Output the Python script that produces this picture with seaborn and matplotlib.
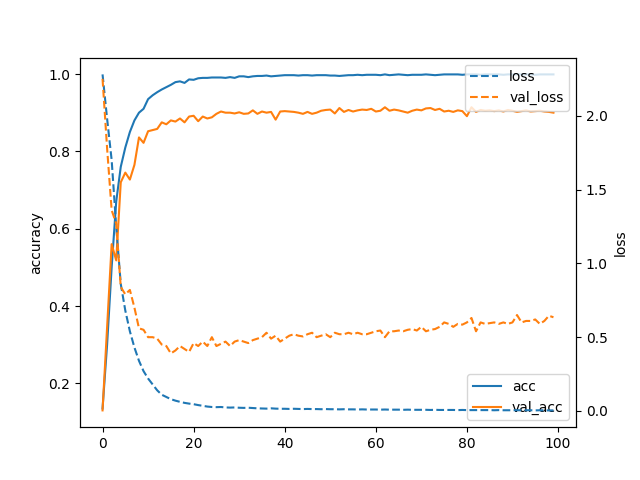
import matplotlib
matplotlib.use("Agg")
import matplotlib.pyplot as plt
import seaborn as sns

# Training history
epochs = list(range(100))

acc = [
    0.135, 0.30, 0.50, 0.67, 0.76, 0.81, 0.85, 0.88, 0.90, 0.91,
    0.935, 0.945, 0.953, 0.96, 0.966, 0.972, 0.979, 0.981, 0.977, 0.986,
    0.985, 0.989, 0.99, 0.99, 0.991, 0.991, 0.991, 0.99, 0.992, 0.99,
    0.994, 0.994, 0.992, 0.994, 0.995, 0.995, 0.996, 0.994, 0.995, 0.996,
    0.997, 0.997, 0.997, 0.996, 0.997, 0.997, 0.996, 0.997, 0.997, 0.997,
    0.996, 0.996, 0.995, 0.996, 0.997, 0.997, 0.998, 0.997, 0.998, 0.998,
    0.998, 0.997, 0.999, 0.997, 0.998, 0.999, 0.998, 0.997, 0.998, 0.998,
    0.998, 0.999, 0.998, 0.997, 0.998, 0.999, 0.999, 0.999, 0.999, 0.998,
    0.999, 0.999, 0.999, 0.998, 0.999, 0.999, 0.999, 0.999, 0.998, 0.999,
    0.999, 0.999, 0.999, 0.999, 0.999, 0.998, 0.999, 0.999, 0.999, 0.999,
]

val_acc = [
    0.13, 0.345, 0.56, 0.518, 0.72, 0.745, 0.727, 0.765, 0.836, 0.822,
    0.852, 0.855, 0.858, 0.875, 0.87, 0.88, 0.877, 0.885, 0.875, 0.89,
    0.892, 0.878, 0.89, 0.885, 0.888, 0.897, 0.903, 0.9, 0.9, 0.898,
    0.901, 0.897, 0.898, 0.906, 0.897, 0.903, 0.9, 0.902, 0.882, 0.903,
    0.904, 0.903, 0.902, 0.9, 0.897, 0.902, 0.897, 0.9, 0.905, 0.907,
    0.908, 0.898, 0.912, 0.902, 0.907, 0.903, 0.906, 0.908, 0.907, 0.91,
    0.903, 0.905, 0.914, 0.905, 0.908, 0.906, 0.903, 0.9, 0.905, 0.908,
    0.906, 0.911, 0.912, 0.907, 0.91, 0.903, 0.905, 0.902, 0.906, 0.904,
    0.891, 0.914, 0.902, 0.907, 0.905, 0.906, 0.904, 0.906, 0.903, 0.907,
    0.905, 0.902, 0.904, 0.906, 0.903, 0.904, 0.905, 0.903, 0.902, 0.9,
]

loss = [
    2.28, 1.98, 1.70, 1.25, 0.86, 0.68, 0.54, 0.43, 0.34, 0.27,
    0.22, 0.18, 0.14, 0.11, 0.095, 0.08, 0.07, 0.062, 0.055, 0.05,
    0.046, 0.04, 0.035, 0.03, 0.027, 0.026, 0.027, 0.024, 0.023, 0.024,
    0.022, 0.021, 0.022, 0.02, 0.018, 0.017, 0.016, 0.018, 0.016, 0.015,
    0.015, 0.014, 0.015, 0.014, 0.013, 0.014, 0.013, 0.013, 0.012, 0.013,
    0.012, 0.012, 0.011, 0.012, 0.011, 0.011, 0.01, 0.011, 0.01, 0.01,
    0.01, 0.009, 0.01, 0.009, 0.009, 0.009, 0.008, 0.009, 0.008, 0.008,
    0.008, 0.008, 0.007, 0.008, 0.007, 0.007, 0.007, 0.007, 0.006, 0.007,
    0.006, 0.006, 0.006, 0.006, 0.006, 0.006, 0.005, 0.006, 0.005, 0.005,
    0.005, 0.005, 0.005, 0.005, 0.005, 0.004, 0.005, 0.004, 0.004, 0.004,
]

val_loss = [
    2.25, 1.78, 1.36, 1.27, 0.84, 0.79, 0.82, 0.70, 0.56, 0.55,
    0.50, 0.50, 0.49, 0.45, 0.44, 0.39, 0.41, 0.44, 0.42, 0.40,
    0.46, 0.44, 0.47, 0.44, 0.50, 0.44, 0.455, 0.47, 0.44, 0.47,
    0.48, 0.47, 0.46, 0.48, 0.49, 0.50, 0.53, 0.49, 0.51, 0.47,
    0.49, 0.51, 0.52, 0.51, 0.505, 0.52, 0.53, 0.50, 0.51, 0.52,
    0.50, 0.53, 0.52, 0.52, 0.53, 0.52, 0.53, 0.52, 0.52, 0.53,
    0.54, 0.545, 0.50, 0.54, 0.54, 0.545, 0.54, 0.55, 0.555, 0.545,
    0.57, 0.54, 0.55, 0.555, 0.57, 0.60, 0.59, 0.57, 0.59, 0.585,
    0.60, 0.63, 0.54, 0.60, 0.59, 0.595, 0.60, 0.59, 0.60, 0.59,
    0.60, 0.65, 0.60, 0.61, 0.61, 0.62, 0.59, 0.61, 0.645, 0.635,
]

fig, ax = plt.subplots(figsize=(6.4, 4.8), dpi=100)

# Accuracy on the left axis
sns.lineplot(x=epochs, y=acc, ax=ax, label="acc", color="C0")
sns.lineplot(x=epochs, y=val_acc, ax=ax, label="val_acc", color="C1")
ax.set_ylabel("accuracy")
ax.legend(loc="lower right")

# Loss on the right axis
ax2 = ax.twinx()
sns.lineplot(x=epochs, y=loss, ax=ax2, label="loss", color="C0", linestyle="--")
sns.lineplot(x=epochs, y=val_loss, ax=ax2, label="val_loss", color="C1", linestyle="--")
ax2.set_ylabel("loss")
ax2.legend(loc="upper right")

plt.savefig("out.png", dpi=100)
